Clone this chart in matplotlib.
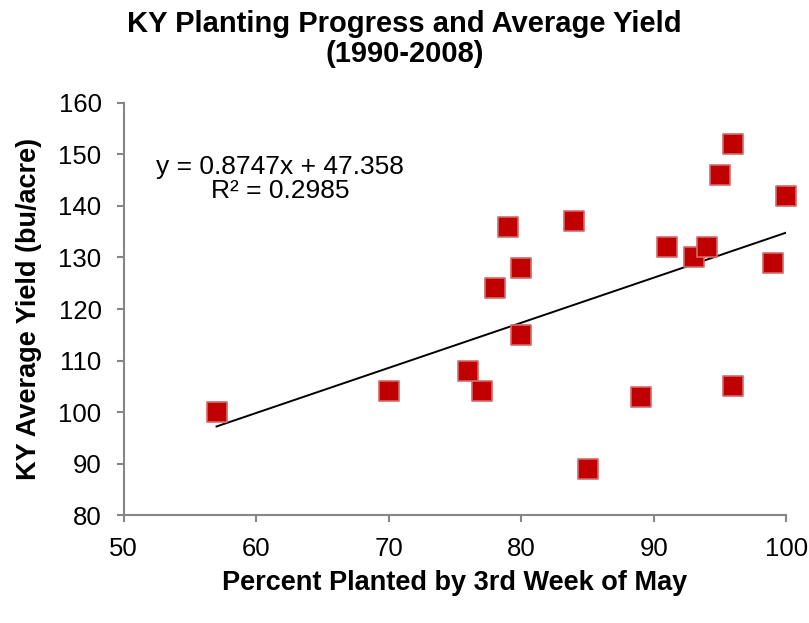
import numpy as np
import matplotlib
matplotlib.use("Agg")
import matplotlib.pyplot as plt

plt.rcParams['font.family'] = ['Liberation Sans', 'DejaVu Sans']

# percent planted by 3rd week of May, KY average yield (1990-2008)
planted = [57, 70, 76, 77, 78, 79, 80, 80, 84, 85, 89, 91, 93, 94, 95, 96, 96, 99, 100]
yields = [100, 104, 108, 104, 124, 136, 128, 115, 137, 89, 103, 132, 130, 132, 146, 152, 105, 129, 142]

slope = 0.8747
intercept = 47.358

fig = plt.figure(figsize=(8.09, 6.23), dpi=100)
ax = fig.add_axes([0.153, 0.173, 0.819, 0.662])

ax.scatter(planted, yields, marker='s', s=200, color='#C00000',
           edgecolors='#D46A6A', linewidths=1.2, zorder=3, clip_on=False)

xs = np.array([min(planted), max(planted)])
ax.plot(xs, slope * xs + intercept, color='black', lw=1.4, zorder=2)

ax.set_xlim(50, 100)
ax.set_ylim(80, 160)
ax.set_xticks(range(50, 101, 10))
ax.set_yticks(range(80, 161, 10))

for s in ['top', 'right']:
    ax.spines[s].set_visible(False)
for s in ['left', 'bottom']:
    ax.spines[s].set_color('#868686')
    ax.spines[s].set_linewidth(1.5)
ax.tick_params(colors='#868686', labelcolor='black', labelsize=18.5,
               width=1.5, length=5, direction='out')
ax.tick_params(axis='x', pad=11)
ax.tick_params(axis='y', pad=11)

fig.text(0.5, 1 - 10 / 623, 'KY Planting Progress and Average Yield\n(1990-2008)',
         ha='center', va='top', fontsize=21, fontweight='bold', linespacing=1.08)
ax.set_xlabel('Percent Planted by 3rd Week of May', fontsize=19.5,
              fontweight='bold', labelpad=6)
ax.set_ylabel('KY Average Yield (bu/acre)', fontsize=19.5,
              fontweight='bold', labelpad=12)

ax.text(0.236, 0.874, 'y = 0.8747x + 47.358\nR² = 0.2985', transform=ax.transAxes,
        fontsize=19, ha='center', va='top', multialignment='center',
        linespacing=1.0)

fig.savefig('out.png', dpi=100)
